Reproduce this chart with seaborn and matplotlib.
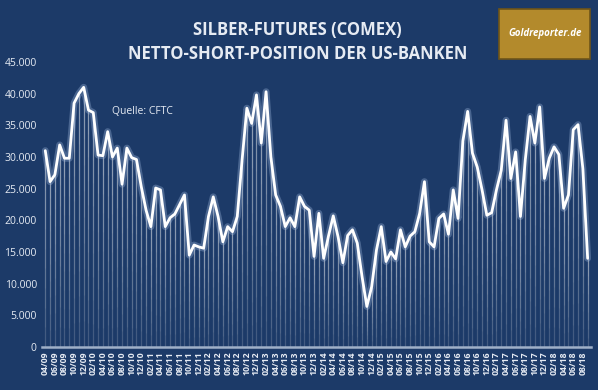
import numpy as np
import pandas as pd
import matplotlib
matplotlib.use("Agg")
import matplotlib.pyplot as plt
import seaborn as sns
from matplotlib.patches import FancyBboxPatch
from matplotlib.ticker import FuncFormatter

# ==========================================
# DATA (monthly, 04/2009 - 09/2018)
# ==========================================
START_MONTH = "2009-04"
short_position = [
    31000, 26100, 27200, 31900, 29800, 29800, 38500, 40000, 41000, 37400,
    37000, 30300, 30200, 34000, 30000, 31400, 25700, 31400, 29900, 29600,
    25300, 21600, 19000, 25100, 24800, 19000, 20400, 21000, 22500, 24000,
    14500, 16100, 15800, 15600, 20600, 23700, 20600, 16600, 19000, 18200,
    20600, 29500, 37700, 35300, 39800, 32200, 40300, 30000, 24000, 22200,
    19000, 20400, 19000, 23700, 22200, 21600, 14300, 21100, 14000, 17500,
    20700, 17400, 13300, 17600, 18500, 16400, 11100, 6400, 9500, 15300,
    19000, 13500, 15000, 13900, 18500, 15800, 17500, 18200, 21100, 26100,
    16600, 15800, 20300, 21000, 17800, 24800, 20300, 32500, 37200, 30600,
    28400, 24800, 20800, 21200, 24800, 27900, 35800, 26600, 30800, 20600,
    29500, 36400, 32200, 37900, 26600, 29800, 31600, 30400, 21900, 24000,
    34300, 35100, 28200, 14000,
]
y_ticks = [0, 5000, 10000, 15000, 20000, 25000, 30000, 35000, 40000, 45000]

TITLE = "SILBER-FUTURES (COMEX)\nNETTO-SHORT-POSITION DER US-BANKEN"
SOURCE = "Quelle: CFTC"
LOGO = "Goldreporter.de"

BG = "#1c3a68"
TEXT = "#e6ebf3"

# ==========================================
# PLOT
# ==========================================
months = pd.period_range(START_MONTH, periods=len(short_position), freq="M")
df = pd.DataFrame({
    "idx": np.arange(len(short_position)),
    "value": short_position,
    "label": [m.strftime("%m/%y") for m in months],
})

sns.set_style("dark", {"axes.facecolor": BG, "figure.facecolor": BG})
plt.rcParams["font.family"] = ["Open Sans", "DejaVu Sans"]

fig = plt.figure(figsize=(5.98, 3.90), dpi=100)
ax = fig.add_axes([0.0709, 0.1103, 0.9166, 0.7308])
ax.set_facecolor(BG)

# drop lines, stacked thin layers so they fade out towards the bottom
n_layers = 10
for k in range(n_layers):
    frac = (k + 1) / n_layers
    ax.vlines(df["idx"], df["value"] * (1 - frac), df["value"],
              color="white", alpha=0.06, linewidth=0.9, zorder=2)
ax.vlines(df["idx"], 0, df["value"], color="white", alpha=0.12,
          linewidth=0.9, zorder=2)

# glow + main line
sns.lineplot(data=df, x="idx", y="value", ax=ax, color="#9fb8dc",
             linewidth=5, alpha=0.35, zorder=3)
sns.lineplot(data=df, x="idx", y="value", ax=ax, color="white",
             linewidth=2.0, zorder=4)

ax.set_xlim(-0.6, len(short_position) - 0.4)
ax.set_ylim(0, 45000)
ax.set_yticks(y_ticks)
ax.yaxis.set_major_formatter(FuncFormatter(lambda v, p: f"{int(v):,}".replace(",", ".")))
ax.set_xticks(df["idx"][::2])
ax.set_xticklabels(df["label"][::2], rotation=90)
ax.tick_params(axis="x", colors=TEXT, labelsize=6.3, length=0, pad=3)
ax.tick_params(axis="y", colors=TEXT, labelsize=7.5, length=0, pad=4)
for t in ax.get_xticklabels():
    t.set_fontweight("bold")
ax.set_xlabel("")
ax.set_ylabel("")
ax.grid(False)
for s in ["top", "right", "left"]:
    ax.spines[s].set_visible(False)
ax.spines["bottom"].set_color("#9fb0c8")
ax.spines["bottom"].set_linewidth(1.8)

ax.text(0.127, 0.825, SOURCE, transform=ax.transAxes, color=TEXT,
        fontsize=7.5, va="center")

fig.text(0.497, 0.893, TITLE, ha="center", va="center", color=TEXT,
         fontsize=12, fontweight="bold", linespacing=1.45)

# logo box
logo = FancyBboxPatch((0.835, 0.848), 0.152, 0.130, boxstyle="square,pad=0",
                      transform=fig.transFigure, facecolor="#b38a2c",
                      edgecolor="#6e5418", linewidth=1.2)
fig.patches.append(logo)
fig.text(0.911, 0.913, LOGO, ha="center", va="center", color="white",
         fontsize=7, fontstyle="italic", fontweight="bold")

fig.savefig("out.png", dpi=100, facecolor=BG)
